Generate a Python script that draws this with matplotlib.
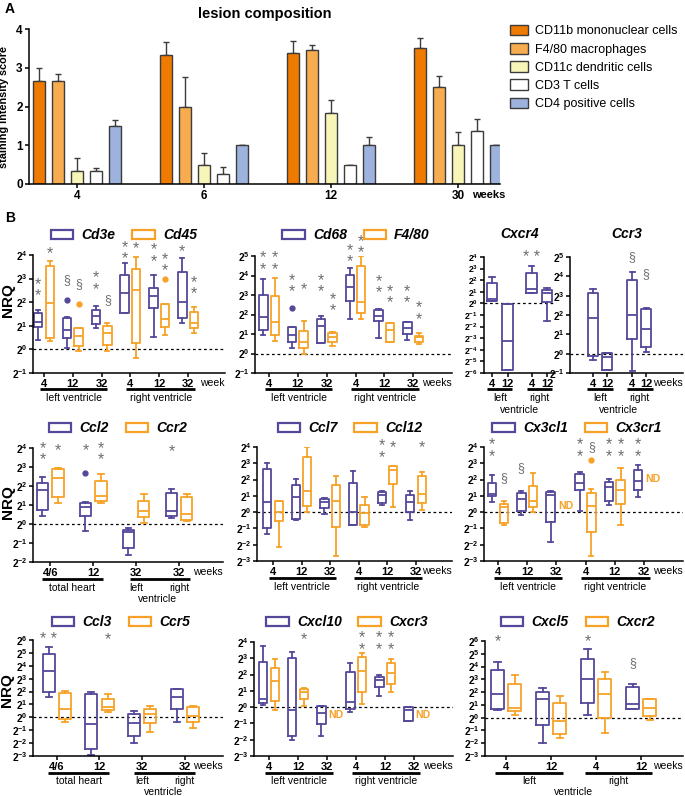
import numpy as np
import matplotlib
matplotlib.use('Agg')
import matplotlib.pyplot as plt
from matplotlib.patches import Patch
from matplotlib.transforms import offset_copy

plt.rcParams['font.family'] = ['Liberation Sans', 'DejaVu Sans']
plt.rcParams['mathtext.fontset'] = 'custom'
plt.rcParams['mathtext.rm'] = 'Liberation Sans'
plt.rcParams['mathtext.bf'] = 'Liberation Sans:bold'
plt.rcParams['mathtext.it'] = 'Liberation Sans:italic'
plt.rcParams['axes.linewidth'] = 1.1

W, H = 685, 796
PURPLE = '#54489a'
ORANGE = '#f7a227'
GREY = '#6e6e6e'

# ---------------- A: lesion composition (score, top of error bar)
weeks_a = ['4', '6', '12', '30']
cell_types = ['CD11b mononuclear cells', 'F4/80 macrophages', 'CD11c dendritic cells',
              'CD3 T cells', 'CD4 positive cells']
cell_colors = ['#ee7a00', '#f7ad4f', '#f8f5b8', '#ffffff', '#9db3dd']
score = [[2.67, 3.33, 3.38, 3.50],
         [2.67, 2.00, 3.45, 2.50],
         [0.33, 0.50, 1.83, 1.00],
         [0.33, 0.25, 0.50, 1.38],
         [1.50, 1.00, 1.00, 1.00]]
score_top = [[3.00, 3.67, 3.69, 3.78],
             [2.83, 2.77, 3.60, 2.78],
             [0.66, 0.79, 2.17, 1.35],
             [0.42, 0.43, 0.50, 1.69],
             [1.65, 1.00, 1.21, 1.00]]

# ---------------- B: boxes as (whisker low, q1, median, q3, whisker high), log2 NRQ
lv_rv = ['4', '12', '32', '4', '12', '32']
th_lr = ['4/6', '12', '32', '32']
lr2 = ['4', '12', '4', '12']

cd3e = [(0.40, 0.94, 1.18, 1.53, 1.67), (0.07, 0.47, 0.82, 1.32, 1.36), (0.92, 1.08, 1.42, 1.67, 1.84),
        (1.53, 1.53, 2.41, 3.16, 3.66), (0.54, 1.74, 2.28, 2.60, 3.16), (1.13, 1.35, 1.99, 3.28, 3.87)]
cd45 = [(0.37, 0.47, 1.96, 3.52, 3.73), (-0.06, 0.14, 0.57, 0.92, 0.92), (-0.06, 0.18, 0.71, 0.99, 1.13),
        (-0.35, 0.26, 2.52, 3.40, 3.90), (0.61, 0.94, 1.29, 1.93, 1.93), (0.71, 0.91, 1.11, 1.60, 1.79)]
cd3e_out = {1: [2.10]}
cd45_out = {1: [1.93], 4: [2.99]}
cd3e_sig = [(0, '**', 2.51), (1, '§', 2.92), (2, '**', 2.79), (3, '**', 4.07), (4, '**', 3.97), (5, '*', 4.16)]
cd45_sig = [(0, '*', 4.06), (1, '§', 2.78), (2, '§', 2.10), (3, '*', 4.26), (4, '**', 3.56), (5, '**', 2.59)]

cd68 = [(0.94, 1.23, 1.85, 3.00, 3.82), (0.29, 0.57, 0.94, 1.34, 1.37), (0.55, 0.55, 1.42, 1.75, 1.92),
        (1.76, 2.71, 3.39, 4.02, 4.40), (0.82, 1.68, 1.93, 2.23, 2.26), (0.68, 0.98, 1.30, 1.59, 1.63)]
f480 = [(0.63, 0.96, 1.63, 2.95, 3.89), (-0.03, 0.29, 0.60, 1.16, 1.68), (0.38, 0.57, 0.86, 1.03, 1.08),
        (1.76, 2.09, 2.64, 4.49, 5.00), (0.57, 0.57, 1.23, 1.54, 1.58), (0.48, 0.57, 0.86, 0.91, 1.03)]
cd68_out = {1: [2.31]}
cd68_sig = [(0, '**', 4.61), (1, '**', 3.44), (2, '**', 3.44), (3, '**', 4.98), (4, '**', 3.41), (5, '**', 2.89)]
f480_sig = [(0, '**', 4.61), (1, '*', 3.25), (2, '**', 2.47), (3, '**', 5.46), (4, '**', 2.89), (5, '**', 2.05)]

cxcr4 = [(0.20, 0.20, 0.40, 1.72, 2.27), (-5.75, -5.75, -3.25, -0.09, -0.09),
         (0.92, 0.92, 1.26, 2.59, 3.22), (-1.52, 0.11, 0.86, 1.12, 1.29)]
cxcr4_sig = [(2, '* *', 4.0)]
ccr3 = [(-0.35, -0.10, 1.83, 3.13, 3.34), (-0.87, -0.87, -0.17, 0.03, 0.03),
        (-0.92, 0.77, 2.00, 3.83, 4.24), (0.09, 0.33, 1.29, 2.33, 2.35)]
ccr3_sig = [(2, '§', 4.99), (3, '§', 4.12)]

ccl2 = [(0.40, 0.75, 1.79, 2.14, 2.45), (-0.35, 0.40, 0.92, 1.10, 1.15),
        (-1.65, -1.25, -0.42, -0.30, -0.21), (0.31, 0.43, 0.66, 1.65, 1.84)]
ccr2 = [(1.10, 1.41, 2.43, 2.92, 2.97), (1.10, 1.22, 1.50, 2.28, 2.61),
        (0.05, 0.35, 0.71, 1.22, 1.58), (0.14, 0.19, 0.54, 1.44, 1.60)]
ccl2_out = {1: [2.66]}
ccl2_sig = [(0, '**', 3.69), (1, '*', 3.88), (3, '*', 3.83)]
ccr2_sig = [(0, '*', 3.88), (1, '**', 3.69)]

ccl7 = [(-1.33, -0.96, 0.63, 2.67, 3.02), (-0.51, -0.45, 0.92, 1.69, 2.06), (-0.14, 0.27, 0.63, 0.82, 0.84),
        (-0.80, -0.76, 0.02, 1.80, 2.55), (0.41, 0.57, 1.08, 1.24, 1.29), (-0.49, 0.02, 0.63, 1.04, 1.29)]
ccl12 = [(-2.14, -0.55, 0.00, 0.71, 0.71), (0.02, 0.35, 1.29, 3.39, 3.98), (-2.69, -0.90, 0.67, 1.65, 2.20),
         (-0.92, -0.82, -0.04, 0.43, 0.94), (0.33, 1.73, 2.61, 2.82, 2.86), (0.16, 0.57, 1.12, 2.24, 2.45)]
ccl7_sig = [(4, '**', 3.71)]
ccl12_sig = [(4, '*', 3.94), (5, '*', 3.94)]

cx3cl1 = [(0.63, 0.97, 1.11, 1.78, 2.28), (-0.20, 0.10, 0.81, 1.17, 1.27), (-1.86, -0.61, 1.03, 1.21, 1.31),
          (0.06, 1.33, 1.78, 2.34, 2.44), (0.46, 0.71, 1.52, 1.84, 2.04), (0.93, 1.33, 1.92, 2.59, 2.89)]
cx3cr1 = [(-0.79, -0.65, 0.30, 0.53, 0.67), (0.02, 0.32, 0.71, 1.62, 2.38), None,
          (-2.67, -1.19, 0.40, 1.17, 1.41), (-0.81, 0.53, 1.33, 1.98, 2.73), None]
cx3cr1_out = {3: [3.19]}
cx3cr1_nd = [(2, 0.36), (5, 2.02)]
cx3cl1_sig = [(0, '**', 3.78), (1, '§', 2.69), (3, '**', 3.78), (4, '**', 3.78), (5, '**', 3.78)]
cx3cr1_sig = [(0, '§', 2.12), (3, '§', 4.00), (4, '**', 3.78)]

ccl3 = [(1.61, 1.94, 3.60, 4.90, 5.49), (-2.93, -2.49, -0.52, 1.79, 1.94),
        (-2.02, -1.42, -0.47, 0.23, 0.52), (-0.34, 0.65, 1.55, 2.18, 2.18)]
ccr5 = [(-0.34, -0.13, 0.65, 1.87, 2.07), (0.39, 0.57, 0.78, 1.42, 1.81),
        (-1.11, -0.47, 0.26, 0.65, 0.88), (-0.85, -0.39, 0.13, 0.78, 0.91)]
ccl3_sig = [(0, '* *', 6.0)]
ccr5_sig = [(1, '*', 6.0)]

cxcl10 = [(0.14, 0.24, 0.49, 2.80, 3.76), (-2.04, -1.80, -0.20, 3.00, 3.37), (-1.80, -1.02, -0.33, 0.08, 0.08),
          (-0.31, -0.10, 0.31, 2.14, 2.73), (0.71, 1.22, 1.67, 1.88, 1.98), (-0.88, -0.84, -0.20, 0.00, 0.00)]
cxcr3 = [(-0.16, 0.35, 1.61, 2.43, 2.94), (0.04, 0.49, 0.96, 1.10, 1.20), None,
         (0.18, 0.96, 2.22, 3.10, 3.31), (0.92, 1.41, 2.08, 2.69, 2.94), None]
cxcr3_nd = [(2, -0.47), (5, -0.47)]
cxcl10_sig = [(4, '**', 3.90)]
cxcr3_sig = [(1, '*', 4.12), (3, '**', 3.90), (4, '**', 3.90)]

cxcl5 = [(0.57, 0.70, 1.88, 3.71, 4.36), (-1.96, -0.60, 1.49, 2.01, 2.32),
         (0.23, 1.17, 3.05, 4.62, 5.40), (0.65, 0.70, 1.04, 2.40, 2.66)]
cxcr2 = [(0.23, 0.52, 0.78, 2.66, 3.37), (-1.57, -1.25, -0.29, 1.17, 1.67),
         (-1.20, 0.00, 1.83, 3.05, 3.58), (-0.16, 0.10, 0.78, 1.44, 1.49)]
cxcl5_sig = [(0, '*', 5.93), (2, '*', 5.93), (3, '§', 4.28)]

fig = plt.figure(figsize=(W / 100, H / 100), dpi=100)


def add_ax(l, t, r, b):
    return fig.add_axes([l / W, 1 - b / H, (r - l) / W, (b - t) / H])


def below(ax, dy):
    # x in data units, y = dy pixels under the x axis
    return offset_copy(ax.get_xaxis_transform(), fig=fig, y=-dy, units='dots')


def base(ax, ylim, xlim, pos, labels, unit, ysize=7.3):
    ax.spines['top'].set_visible(False)
    ax.spines['right'].set_visible(False)
    ax.set_ylim(*ylim)
    ax.set_xlim(*xlim)
    ticks = list(range(ylim[0], ylim[1] + 1))
    ax.set_yticks(ticks)
    ax.set_yticklabels([r'$\mathbf{2^{%d}}$' % t for t in ticks], fontsize=ysize)
    ax.set_xticks(pos)
    ax.set_xticklabels(labels, fontweight='bold', fontsize=8)
    ax.tick_params(length=3, width=1.1, pad=1.2)
    ax.axhline(0, color='black', ls=(0, (2.2, 2.2)), lw=0.9, zorder=0)
    if unit:
        tr = offset_copy(ax.transAxes, fig=fig, y=-10, units='dots')
        ax.text(1.0, 0, unit, transform=tr, ha='right', va='center', fontsize=7.5)


def boxes(ax, stats, pos, color, width, outliers=None):
    outliers = outliers or {}
    bx, xs = [], []
    for i, s in enumerate(stats):
        if s is None:
            continue
        lo, q1, med, q3, hi = s
        bx.append(dict(whislo=lo, q1=q1, med=med, q3=q3, whishi=hi, fliers=outliers.get(i, [])))
        xs.append(pos[i])
    lp = dict(color=color, lw=1.3)
    ax.bxp(bx, positions=xs, widths=width, capwidths=width * 0.5, manage_ticks=False,
           boxprops=lp, whiskerprops=lp, capprops=lp, medianprops=lp,
           flierprops=dict(marker='o', markerfacecolor=color, markeredgecolor=color, markersize=3.5))


def marks(ax, sig, pos):
    for i, s, y in sig:
        if s == '**':
            ax.text(pos[i], y, '*\n*', ha='center', va='center', fontsize=11.5, color=GREY,
                    linespacing=0.7, clip_on=False)
        else:
            ax.text(pos[i], y, s, ha='center', va='center', fontsize=11.5 if '*' in s else 9,
                    color=GREY, clip_on=False)


def nd(ax, items, pos):
    for i, y in items:
        ax.text(pos[i] + 0.05, y, 'ND', ha='left', va='center', fontsize=7.5,
                fontweight='bold', color=ORANGE)


def bar_label(ax, x0, x1, dy, text=None, tdy=None, tx=None):
    ax.plot([x0, x1], [0, 0], color='black', lw=2, transform=below(ax, dy), clip_on=False,
            solid_capstyle='butt')
    if text:
        ax.text((x0 + x1) / 2 if tx is None else tx, 0, text, transform=below(ax, tdy),
                ha='center', va='center', fontsize=7.5)


def gene_legend(names, cx, cy):
    hs = [Patch(facecolor='white', edgecolor=PURPLE, lw=1.6),
          Patch(facecolor='white', edgecolor=ORANGE, lw=1.6)]
    fig.legend(hs, names, loc='center', bbox_to_anchor=(cx / W, 1 - cy / H), ncol=2,
               frameon=False, handlelength=1.6, handleheight=0.6, handletextpad=0.6,
               columnspacing=1.2, borderpad=0, borderaxespad=0,
               prop=dict(size=10, weight='bold', style='italic'))


def nrq(x, y):
    fig.text(x / W, 1 - y / H, 'NRQ', rotation=90, fontsize=11, fontweight='bold',
             ha='center', va='center')


def two_series(rect, ylim, xlim, pos, labels, unit, s1, s2, off, width,
               out1=None, out2=None, sig1=(), sig2=(), nd2=()):
    ax = add_ax(*rect)
    base(ax, ylim, xlim, pos, labels, unit)
    p1 = [p - off for p in pos]
    p2 = [p + off for p in pos]
    boxes(ax, s1, p1, PURPLE, width, out1)
    boxes(ax, s2, p2, ORANGE, width, out2)
    marks(ax, sig1, p1)
    marks(ax, sig2, p2)
    nd(ax, nd2, pos)
    return ax


# ================= Panel A
axA = add_ax(29, 29, 500, 184)
xa = np.arange(len(weeks_a))
for k in range(len(cell_types)):
    x = xa + (k - 2) * 0.15
    axA.bar(x, score[k], width=0.095, color=cell_colors[k], edgecolor='#3c3c3c', lw=1,
            label=cell_types[k], zorder=2)
    axA.errorbar(x, score[k], yerr=[np.zeros(4), np.subtract(score_top[k], score[k])], fmt='none',
                 ecolor='#3c3c3c', elinewidth=1, capsize=2.5, capthick=1, zorder=1)
axA.set_xlim(-0.38, 3.33)
axA.set_ylim(0, 4)
axA.set_yticks(range(5))
axA.set_xticks(xa)
axA.set_xticklabels(weeks_a)
axA.spines['top'].set_visible(False)
axA.spines['right'].set_visible(False)
axA.tick_params(length=3, width=1.1, pad=1.5, labelsize=8.5)
for t in axA.get_xticklabels() + axA.get_yticklabels():
    t.set_fontweight('bold')
axA.set_title('lesion composition', fontsize=10.5, fontweight='bold', pad=8)
axA.set_ylabel('staining intensity score', fontsize=7.8, fontweight='bold', labelpad=5)
axA.legend(loc='upper left', bbox_to_anchor=(510 / W, 1 - 25 / H), bbox_transform=fig.transFigure,
           frameon=False, fontsize=9, handlelength=1.4, handleheight=0.9, labelspacing=0.45,
           handletextpad=0.6, borderpad=0, borderaxespad=0)
fig.text(472 / W, 1 - 195 / H, 'weeks', fontsize=8, fontweight='bold', va='center')
fig.text(5 / W, 1 - 9 / H, 'A', fontsize=10, fontweight='bold', va='center')
fig.text(5 / W, 1 - 218 / H, 'B', fontsize=10, fontweight='bold', va='center')

six = [0, 1, 2, 3, 4, 5]
four = [0, 1, 2, 3]

# ================= row 1
ax = two_series((33, 255, 225, 373), (-1, 4), (-0.38, 6.28), six, lv_rv, 'week',
                cd3e, cd45, 0.2, 0.29, cd3e_out, cd45_out, cd3e_sig, cd45_sig)
bar_label(ax, -0.15, 2.2, 16, 'left ventricle', 25)
bar_label(ax, 2.85, 5.25, 16, 'right ventricle', 25)
gene_legend(['Cd3e', 'Cd45'], 124, 235)
nrq(8, 300)

ax = two_series((255, 256, 452, 373), (-1, 5), (-0.49, 6.35), six, lv_rv, 'weeks',
                cd68, f480, 0.2, 0.29, cd68_out, None, cd68_sig, f480_sig)
bar_label(ax, -0.15, 2.2, 16, 'left ventricle', 25)
bar_label(ax, 2.85, 5.2, 16, 'right ventricle', 25)
gene_legend(['Cd68', 'F4/80'], 356, 235)

pos4 = [0, 1, 2.55, 3.55]
ax = add_ax(484, 257, 555, 373)
base(ax, (-6, 4), (-0.52, 4.06), pos4, lr2, None, ysize=6.3)
boxes(ax, cxcr4, pos4, PURPLE, 0.68)
marks(ax, cxcr4_sig, pos4)
bar_label(ax, -0.3, 1.3, 16, 'left', 25)
bar_label(ax, 2.25, 3.85, 16, 'right', 25)
ax.text(1.8, 0, 'ventricle', transform=below(ax, 37), ha='center', va='center', fontsize=7.5)
ax.set_title('Cxcr4', fontsize=10, fontweight='bold', style='italic', pad=14)

pos5 = [0, 1, 2.8, 3.8]
ax = add_ax(570, 257, 683, 373)
base(ax, (-1, 5), (-1.64, 6.43), pos5, lr2, 'weeks')
boxes(ax, ccr3, pos5, PURPLE, 0.75)
marks(ax, ccr3_sig, pos5)
bar_label(ax, -0.4, 1.4, 16, 'left', 25)
bar_label(ax, 2.4, 4.3, 16, 'right', 25)
ax.text(1.8, 0, 'ventricle', transform=below(ax, 37), ha='center', va='center', fontsize=7.5)
ax.set_title('Ccr3', fontsize=10, fontweight='bold', style='italic', pad=14)

# ================= row 2
ax = two_series((33, 448, 223, 562), (-2, 4), (-0.4, 4.02), four, th_lr, 'weeks',
                ccl2, ccr2, 0.18, 0.26, ccl2_out, None, ccl2_sig, ccr2_sig)
bar_label(ax, -0.2, 1.22, 17, 'total heart', 26)
bar_label(ax, 1.85, 3.26, 17)
ax.text(2, 0, 'left', transform=below(ax, 26), ha='center', va='center', fontsize=7.5)
ax.text(3, 0, 'right', transform=below(ax, 26), ha='center', va='center', fontsize=7.5)
ax.text(2.5, 0, 'ventricle', transform=below(ax, 37), ha='center', va='center', fontsize=7.5)
gene_legend(['Ccl2', 'Ccr2'], 118, 428)
nrq(8, 502)

ax = two_series((257, 447, 452, 561), (-3, 4), (-0.56, 6.26), six, lv_rv, 'weeks',
                ccl7, ccl12, 0.2, 0.29, None, None, ccl7_sig, ccl12_sig)
bar_label(ax, -0.15, 2.2, 17, 'left ventricle', 26)
bar_label(ax, 2.85, 5.2, 17, 'right ventricle', 26)
gene_legend(['Ccl7', 'Ccl12'], 350, 428)

ax = two_series((484, 447, 683, 561), (-3, 4), (-0.48, 6.34), six, lv_rv, 'weeks',
                cx3cl1, cx3cr1, 0.2, 0.29, None, cx3cr1_out, cx3cl1_sig, cx3cr1_sig, cx3cr1_nd)
bar_label(ax, -0.15, 2.2, 17, 'left ventricle', 26)
bar_label(ax, 2.85, 5.2, 17, 'right ventricle', 26)
gene_legend(['Cx3cl1', 'Cx3cr1'], 577, 428)

# ================= row 3
ax = two_series((33, 640, 223, 756), (-3, 6), (-0.56, 3.9), four, th_lr, 'weeks',
                ccl3, ccr5, 0.19, 0.28, None, None, ccl3_sig, ccr5_sig)
bar_label(ax, -0.2, 1.22, 17, 'total heart', 25)
bar_label(ax, 1.8, 3.25, 17)
ax.text(2, 0, 'left', transform=below(ax, 25), ha='center', va='center', fontsize=7.5)
ax.text(3, 0, 'right', transform=below(ax, 25), ha='center', va='center', fontsize=7.5)
ax.text(2.5, 0, 'ventricle', transform=below(ax, 36), ha='center', va='center', fontsize=7.5)
gene_legend(['Ccl3', 'Ccr5'], 121, 622)
nrq(7, 690)

ax = two_series((254, 642, 453, 756), (-3, 4), (-0.52, 6.34), six, lv_rv, 'weeks',
                cxcl10, cxcr3, 0.2, 0.29, None, None, cxcl10_sig, cxcr3_sig, cxcr3_nd)
bar_label(ax, -0.15, 2.2, 17, 'left ventricle', 25)
bar_label(ax, 2.85, 5.2, 17, 'right ventricle', 25)
gene_legend(['Cxcl10', 'Cxcr3'], 347, 622)

ax = two_series((485, 641, 683, 756), (-3, 6), (-0.47, 3.93), four, lr2, 'weeks',
                cxcl5, cxcr2, 0.19, 0.28, None, None, cxcl5_sig, ())
bar_label(ax, -0.25, 1.27, 17, 'left', 25)
bar_label(ax, 1.76, 3.24, 17, 'right', 25)
ax.text(1.5, 0, 'ventricle', transform=below(ax, 36), ha='center', va='center', fontsize=7.5)
gene_legend(['Cxcl5', 'Cxcr2'], 578, 622)

fig.savefig('out.png', dpi=100)
